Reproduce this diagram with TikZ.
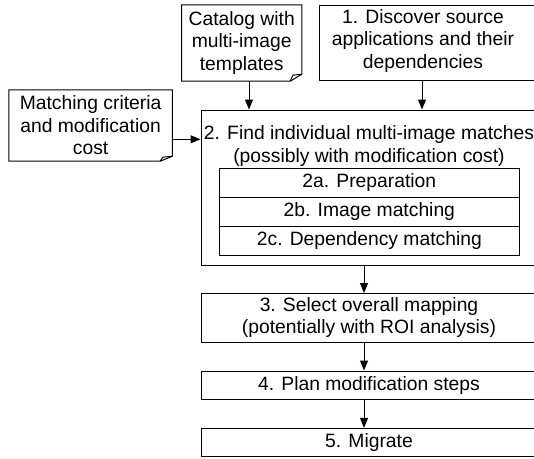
\documentclass[tikz,border=0pt]{standalone}
\usepackage{fontspec}
\setmainfont{Liberation Sans}
\usetikzlibrary{arrows.meta}
\newcommand\diafont{\fontsize{19.3}{22.5}\selectfont}
\begin{document}
\begin{tikzpicture}[x=1pt,y=-1pt,
  edge/.style={draw=black, line width=1pt, line join=miter},
  box/.style={edge, inner sep=0pt, align=center, font=\diafont},
  txt/.style={inner sep=0pt, align=center, font=\diafont},
  arr/.style={line width=1pt, -{Triangle[length=10pt,width=8pt]}},
]
\useasboundingbox (0,0) rectangle (534,458);

% input documents
\node[txt, minimum width=120pt, minimum height=76pt] (cat) at (241.7,43) {Catalog with\\multi-image\\templates};
\draw[edge] (cat.north west) -- (cat.north east) -- ([yshift=7pt]cat.south east)
  -- ([xshift=-11.7pt]cat.south east) -- (cat.south west) -- cycle;
\draw[edge] ([xshift=-11.7pt]cat.south east) -- ([xshift=-9pt,yshift=6pt]cat.south east) -- ([yshift=7pt]cat.south east);

\node[txt, minimum width=163.3pt, minimum height=71pt] (mat) at (90.6,125.5) {Matching criteria\\and modification\\cost};
\draw[edge] (mat.north west) -- (mat.north east) -- ([yshift=5pt]mat.south east)
  -- ([xshift=-12.3pt]mat.south east) -- (mat.south west) -- cycle;
\draw[edge] ([xshift=-12.3pt]mat.south east) -- ([xshift=-9.5pt,yshift=4pt]mat.south east) -- ([yshift=5pt]mat.south east);

% step 1
\node[box, minimum width=226pt, minimum height=75pt] (b1) at (432,42.5) {};
\node[txt] (b1t) at (423,41) {1. Discover source\\applications and their\\dependencies};

% step 2
\node[box, minimum width=336pt, minimum height=155pt] (b2) at (369,187.5) {};
\node[txt] (b2t) at (369,146) {2. Find individual multi-image matches\\(possibly with modification cost)};
\node[box, minimum width=299.3pt, minimum height=29.1pt] (r1) at (369.35,182.85) {2a. Preparation};
\node[box, minimum width=299.3pt, minimum height=28.9pt] (r2) at (369.35,211.85) {2b. Image matching};
\node[box, minimum width=299.3pt, minimum height=28.7pt] (r3) at (369.35,240.65) {2c. Dependency matching};

% steps 3-5
\node[box, minimum width=336pt, minimum height=48.5pt] (b3) at (369,317.75) {3. Select overall mapping\\(potentially with ROI analysis)};
\node[box, minimum width=336pt, minimum height=28.3pt] (b4) at (369,385.15) {4. Plan modification steps};
\node[box, minimum width=336pt, minimum height=28.4pt] (b5) at (369,442.5) {5. Migrate};

% connectors
\coordinate (xa) at (249,0);
\coordinate (xb) at (422,0);
\coordinate (xm) at (364,0);
\coordinate (ya) at (0,139.3);
\draw[arr] (cat.south -| xa) -- (b2.north -| xa);
\draw[arr] (b1.south -| xb) -- (b2.north -| xb);
\draw[arr] (mat.east |- ya) -- (b2.west |- ya);
\draw[arr] (b2.south -| xm) -- (b3.north -| xm);
\draw[arr] (b3.south -| xm) -- (b4.north -| xm);
\draw[arr] (b4.south -| xm) -- (b5.north -| xm);
\end{tikzpicture}
\end{document}
